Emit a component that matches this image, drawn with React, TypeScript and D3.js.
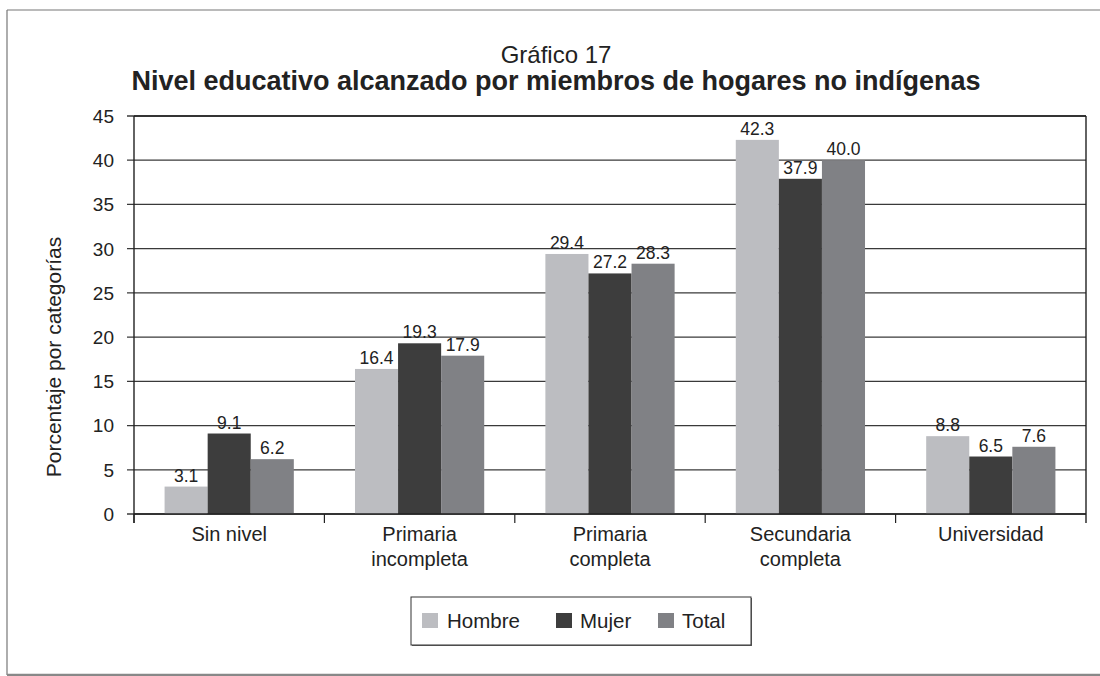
import React from "react";
import * as d3 from "d3";

const categories: string[][] = [
  ["Sin nivel"],
  ["Primaria", "incompleta"],
  ["Primaria", "completa"],
  ["Secundaria", "completa"],
  ["Universidad"],
];
const seriesNames = ["Hombre", "Mujer", "Total"];
const hombre = [3.1, 16.4, 29.4, 42.3, 8.8];
const mujer = [9.1, 19.3, 27.2, 37.9, 6.5];
const total = [6.2, 17.9, 28.3, 40.0, 7.6];
const yTicks = [0, 5, 10, 15, 20, 25, 30, 35, 40, 45];
const colors = ["#bcbdc1", "#3d3d3d", "#808185"];

const W = 1100;
const H = 676;
const FONT = "'Liberation Sans', Arial, Helvetica, sans-serif";
const TXT = "#222";

export default function App() {
  const series = [hombre, mujer, total];
  const left = 134, right = 1086, top = 116, bottom = 514;
  const x0 = d3.scaleBand<number>().domain(d3.range(categories.length)).range([left, right]).padding(0);
  const x1 = d3.scaleBand<number>().domain(d3.range(seriesNames.length)).range([0, x0.bandwidth()]).paddingInner(0).paddingOuter(0.71);
  const y = d3.scaleLinear().domain([0, 45]).range([bottom, top]);

  const legendX = 411, legendY = 597, legendW = 340, legendH = 48;
  const legendItems = [
    { sw: 422, tx: 447 },
    { sw: 556, tx: 580 },
    { sw: 658, tx: 682 },
  ];

  return (
    <svg width={W} height={H} style={{ position: "absolute", left: 0, top: 0, background: "#fff" }} fontFamily={FONT}>
      <rect x={0} y={0} width={W} height={H} fill="#fff" />
      {/* outer frame */}
      <line x1={7} y1={10} x2={W} y2={10} stroke="#777" strokeWidth={1.2} />
      <line x1={7} y1={10} x2={7} y2={675} stroke="#777" strokeWidth={1.2} />
      <line x1={7} y1={675} x2={W} y2={675} stroke="#888" strokeWidth={2.5} />

      {/* titles */}
      <text x={556} y={63} textAnchor="middle" fontSize={24} fill={TXT}>Gráfico 17</text>
      <text x={556} y={90} textAnchor="middle" fontSize={27} fontWeight="bold" fill={TXT}>
        Nivel educativo alcanzado por miembros de hogares no indígenas
      </text>

      {/* gridlines */}
      {yTicks.map((t) => (
        <line key={"g" + t} x1={left - 7} x2={right} y1={y(t)} y2={y(t)} stroke="#3a3a3a" strokeWidth={1.3} />
      ))}
      {yTicks.map((t) => (
        <text key={"t" + t} x={114} y={y(t)} dy="0.36em" textAnchor="end" fontSize={19} fill={TXT}>{t}</text>
      ))}

      {/* bars */}
      {categories.map((_, ci) =>
        series.map((vals, si) => {
          const bx = (x0(ci) as number) + (x1(si) as number);
          return (
            <rect key={`b${ci}-${si}`} x={bx} y={y(vals[ci])} width={x1.bandwidth()} height={y(0) - y(vals[ci])} fill={colors[si]} />
          );
        })
      )}
      {categories.map((_, ci) =>
        series.map((vals, si) => {
          const cx = (x0(ci) as number) + (x1(si) as number) + x1.bandwidth() / 2;
          return (
            <text key={`l${ci}-${si}`} x={cx} y={y(vals[ci]) - 5} textAnchor="middle" fontSize={17.5} fill={TXT}>
              {vals[ci].toFixed(1)}
            </text>
          );
        })
      )}

      {/* axes / frame */}
      <line x1={left} x2={left} y1={top} y2={bottom + 9} stroke="#222" strokeWidth={1.4} />
      <line x1={right} x2={right} y1={top} y2={bottom + 9} stroke="#222" strokeWidth={1.4} />
      <line x1={left} x2={right} y1={top} y2={top} stroke="#222" strokeWidth={1.4} />
      <line x1={left} x2={right} y1={bottom} y2={bottom} stroke="#222" strokeWidth={1.4} />
      {categories.map((_, ci) => (
        <line key={"ct" + ci} x1={x0(ci) as number} x2={x0(ci) as number} y1={bottom} y2={bottom + 9} stroke="#222" strokeWidth={1.2} />
      ))}
      {categories.map((lines, ci) => (
        <text key={"cl" + ci} x={(x0(ci) as number) + x0.bandwidth() / 2} y={541} textAnchor="middle" fontSize={20} fill={TXT}>
          {lines.map((ln, li) => (
            <tspan key={li} x={(x0(ci) as number) + x0.bandwidth() / 2} dy={li === 0 ? 0 : 25}>{ln}</tspan>
          ))}
        </text>
      ))}

      {/* y axis title */}
      <text transform="translate(61,357) rotate(-90)" textAnchor="middle" fontSize={21} fill={TXT}>Porcentaje por categorías</text>

      {/* legend */}
      <rect x={legendX + 1} y={legendY + 1} width={legendW} height={legendH} fill="#666" />
      <rect x={legendX} y={legendY} width={legendW} height={legendH} fill="#fff" stroke="#333" strokeWidth={1} />
      {seriesNames.map((n, i) => (
        <g key={"lg" + i}>
          <rect x={legendItems[i].sw} y={613} width={16} height={15} fill={colors[i]} />
          <text x={legendItems[i].tx} y={628} fontSize={20.5} fill={TXT}>{n}</text>
        </g>
      ))}
    </svg>
  );
}
